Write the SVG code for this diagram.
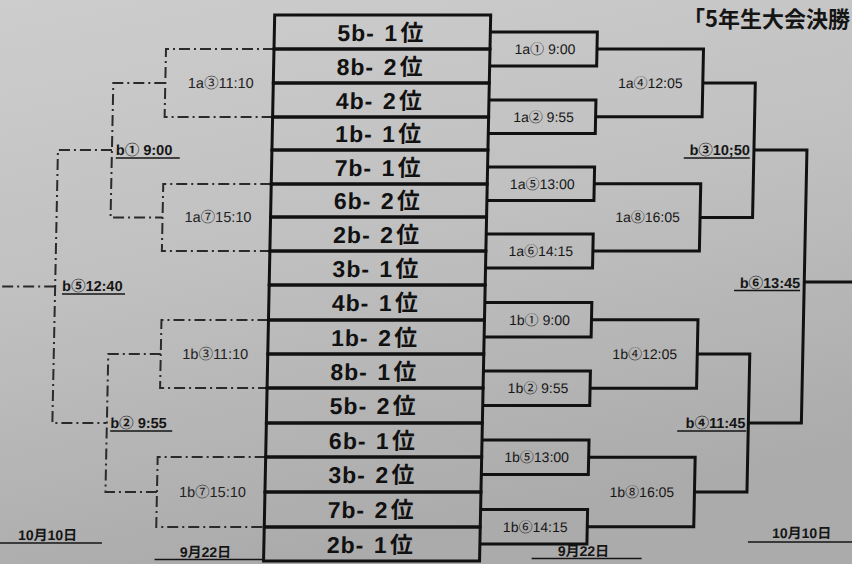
<svg xmlns="http://www.w3.org/2000/svg" width="852" height="564" viewBox="0 0 852 564">
<defs>
<linearGradient id="bg" x1="0" y1="0" x2="0.3" y2="1">
<stop offset="0" stop-color="#cdcdcd"/>
<stop offset="0.5" stop-color="#c0c0c0"/>
<stop offset="1" stop-color="#ababab"/>
</linearGradient>
<style>
.team{fill:none;stroke:#111;stroke-width:3}
.tt{font-family:"Liberation Sans","Noto Sans CJK JP",sans-serif;font-weight:bold;font-size:23px;fill:#111;letter-spacing:1px}
.solid{fill:none;stroke:#111;stroke-width:3;stroke-linejoin:miter}
.dash{fill:none;stroke:#2a2a2a;stroke-width:2;stroke-dasharray:11 4 2 4}
.ml{font-family:"Liberation Sans","Noto Sans CJK JP",sans-serif;font-size:14px;fill:#161616;text-anchor:middle}
.ll{font-family:"Liberation Sans","Noto Sans CJK JP",sans-serif;font-size:14.5px;fill:#222;text-anchor:middle}
.bl{font-family:"Liberation Sans","Noto Sans CJK JP",sans-serif;font-size:14.5px;font-weight:bold;fill:#151515}
.ul{stroke:#151515;stroke-width:1.5}
.dt{font-family:"Liberation Sans","Noto Sans CJK JP",sans-serif;font-size:14px;font-weight:bold;fill:#151515}
.title{font-family:"Noto Sans CJK JP",sans-serif;font-size:22px;font-weight:bold;fill:#151515}
</style>
</defs>
<rect x="0" y="0" width="852" height="564" fill="url(#bg)"/>
<text id="title" class="title" x="683" y="27">「5年生大会決勝</text>
<g transform="matrix(1 0 -0.0204 1 0 0)">
<g id="connectors">
<g id="right-brackets">
<path class="solid" d="M491,32H598V66H491"/>
<path class="solid" d="M491,100H598V133.5H491"/>
<path class="solid" d="M491,167H598V200.5H491"/>
<path class="solid" d="M491,234H598V268H491"/>
<path class="solid" d="M491,302.5H598V337H491"/>
<path class="solid" d="M491,371H598V405.5H491"/>
<path class="solid" d="M491,440H598V474.5H491"/>
<path class="solid" d="M491,509.5H598V544H491"/>
<path class="solid" d="M598,49H704.5V116.75H598"/>
<path class="solid" d="M598,183.75H704.5V251H598"/>
<path class="solid" d="M598,319.75H704.5V388.25H598"/>
<path class="solid" d="M598,457.25H704.5V526.75H598"/>
<path class="solid" d="M704.5,82.9H757V217.4H704.5"/>
<path class="solid" d="M704.5,354H757V492H704.5"/>
<path class="solid" d="M757,150H810V423H757"/>
<path class="solid" d="M810,282H880"/>
</g>
<g id="left-brackets">
<path class="dash" d="M275,49H167V117H275"/>
<path class="dash" d="M275,184H167V251H275"/>
<path class="dash" d="M275,320H168V388H275"/>
<path class="dash" d="M275,457H167V527H275"/>
<path class="dash" d="M167,83H115V217.5H167"/>
<path class="dash" d="M168,354H115.5V492H167"/>
<path class="dash" d="M115,150H61V423H115"/>
<path class="dash" d="M61,286.5H-20"/>
</g>
</g>
<g id="teams">
<g id="team-1"><rect class="team" x="275" y="15" width="216" height="34"/><text class="tt" x="338" y="41">5b-<tspan x="385">1</tspan><tspan x="401">位</tspan></text></g>
<g id="team-2"><rect class="team" x="275" y="49" width="216" height="34"/><text class="tt" x="338" y="75">8b-<tspan x="385">2</tspan><tspan x="401">位</tspan></text></g>
<g id="team-3"><rect class="team" x="275" y="83" width="216" height="34"/><text class="tt" x="338" y="109">4b-<tspan x="385">2</tspan><tspan x="401">位</tspan></text></g>
<g id="team-4"><rect class="team" x="275" y="117" width="216" height="33"/><text class="tt" x="338" y="142.5">1b-<tspan x="385">1</tspan><tspan x="401">位</tspan></text></g>
<g id="team-5"><rect class="team" x="275" y="150" width="216" height="34"/><text class="tt" x="338" y="176">7b-<tspan x="385">1</tspan><tspan x="401">位</tspan></text></g>
<g id="team-6"><rect class="team" x="275" y="184" width="216" height="33"/><text class="tt" x="338" y="209.5">6b-<tspan x="385">2</tspan><tspan x="401">位</tspan></text></g>
<g id="team-7"><rect class="team" x="275" y="217" width="216" height="34"/><text class="tt" x="338" y="243">2b-<tspan x="385">2</tspan><tspan x="401">位</tspan></text></g>
<g id="team-8"><rect class="team" x="275" y="251" width="216" height="34"/><text class="tt" x="338" y="277">3b-<tspan x="385">1</tspan><tspan x="401">位</tspan></text></g>
<g id="team-9"><rect class="team" x="275" y="285" width="216" height="35"/><text class="tt" x="338" y="311.5">4b-<tspan x="385">1</tspan><tspan x="401">位</tspan></text></g>
<g id="team-10"><rect class="team" x="275" y="320" width="216" height="34"/><text class="tt" x="338" y="346">1b-<tspan x="385">2</tspan><tspan x="401">位</tspan></text></g>
<g id="team-11"><rect class="team" x="275" y="354" width="216" height="34"/><text class="tt" x="338" y="380">8b-<tspan x="385">1</tspan><tspan x="401">位</tspan></text></g>
<g id="team-12"><rect class="team" x="275" y="388" width="216" height="35"/><text class="tt" x="338" y="414.5">5b-<tspan x="385">2</tspan><tspan x="401">位</tspan></text></g>
<g id="team-13"><rect class="team" x="275" y="423" width="216" height="34"/><text class="tt" x="338" y="449">6b-<tspan x="385">1</tspan><tspan x="401">位</tspan></text></g>
<g id="team-14"><rect class="team" x="275" y="457" width="216" height="35"/><text class="tt" x="338" y="483.5">3b-<tspan x="385">2</tspan><tspan x="401">位</tspan></text></g>
<g id="team-15"><rect class="team" x="275" y="492" width="216" height="35"/><text class="tt" x="338" y="518.5">7b-<tspan x="385">2</tspan><tspan x="401">位</tspan></text></g>
<g id="team-16"><rect class="team" x="275" y="527" width="216" height="34"/><text class="tt" x="338" y="553">2b-<tspan x="385">1</tspan><tspan x="401">位</tspan></text></g>
</g>
<g id="matches-right">
<g id="m-1a1"><text class="ml" x="546" y="54">1a① 9:00</text></g>
<g id="m-1a2"><text class="ml" x="546" y="121.75">1a② 9:55</text></g>
<g id="m-1a5"><text class="ml" x="546" y="188.75">1a⑤13:00</text></g>
<g id="m-1a6"><text class="ml" x="546" y="256">1a⑥14:15</text></g>
<g id="m-1b1"><text class="ml" x="546" y="324.75">1b① 9:00</text></g>
<g id="m-1b2"><text class="ml" x="546" y="393.25">1b② 9:55</text></g>
<g id="m-1b5"><text class="ml" x="546" y="462.25">1b⑤13:00</text></g>
<g id="m-1b6"><text class="ml" x="546" y="531.75">1b⑥14:15</text></g>
<g id="m-1a4"><text class="ml" x="652" y="87.9">1a④12:05</text></g>
<g id="m-1a8"><text class="ml" x="652" y="222.4">1a⑧16:05</text></g>
<g id="m-1b4"><text class="ml" x="652" y="359">1b④12:05</text></g>
<g id="m-1b8"><text class="ml" x="652" y="497">1b⑧16:05</text></g>
<g id="m-b3"><text class="bl" x="753" y="155.5" text-anchor="end">b③10;50</text><line class="ul" x1="687" y1="158" x2="753" y2="158"/></g>
<g id="m-b4"><text class="bl" x="754" y="428.5" text-anchor="end">b④11:45</text><line class="ul" x1="686" y1="431" x2="755" y2="431"/></g>
<g id="m-b6"><text class="bl" x="806" y="288" text-anchor="end">b⑥13:45</text><line class="ul" x1="740" y1="290.5" x2="806" y2="290.5"/></g>
</g>
<g id="matches-left">
<g id="m-1a3"><text class="ll" x="222.5" y="88">1a③11:10</text></g>
<g id="m-1a7"><text class="ll" x="222.5" y="222.5">1a⑦15:10</text></g>
<g id="m-1b3"><text class="ll" x="222.5" y="359">1b③11:10</text></g>
<g id="m-1b7"><text class="ll" x="222.5" y="497">1b⑦15:10</text></g>
<g id="m-b1"><text class="bl" x="119" y="155">b① 9:00</text><line class="ul" x1="119" y1="158" x2="183" y2="158"/></g>
<g id="m-b2"><text class="bl" x="119" y="428">b② 9:55</text><line class="ul" x1="119" y1="431" x2="181" y2="431"/></g>
<g id="m-b5"><text class="bl" x="68" y="291.5">b⑤12:40</text><line class="ul" x1="68" y1="294" x2="131" y2="294"/></g>
</g>
<g id="dates">
<g id="date-l1"><text class="dt" x="29" y="540">10月10日</text><line class="ul" x1="-5" y1="543" x2="113" y2="543"/></g>
<g id="date-l2"><text class="dt" x="191" y="557">9月22日</text><line class="ul" x1="166" y1="559.5" x2="276" y2="559.5"/></g>
<g id="date-r1"><text class="dt" x="569" y="556">9月22日</text><line class="ul" x1="543" y1="558.5" x2="653" y2="558.5"/></g>
<g id="date-r2"><text class="dt" x="783" y="538.5">10月10日</text><line class="ul" x1="759" y1="542" x2="880" y2="542"/></g>
</g>
</g>
</svg>
